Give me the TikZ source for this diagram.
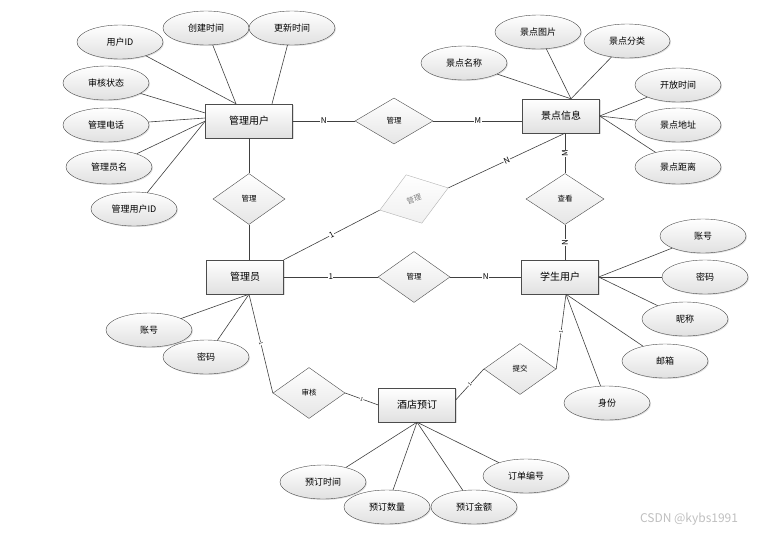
\documentclass[tikz,border=0pt]{standalone}
\usepackage{fontspec}
\setmainfont{Noto Sans CJK SC}
\usetikzlibrary{shapes.geometric, shadows, calc}

\begin{document}
\begin{tikzpicture}[x=1pt, y=-1pt,
  entity/.style={draw=black!70, rectangle, minimum width=77pt, minimum height=34pt,
    top color=white, bottom color=black!12,
    drop shadow={opacity=0.25, shadow xshift=1pt, shadow yshift=-1pt},
    font=\fontsize{10}{12}\selectfont},
  attr/.style={draw=black!70, ellipse, minimum width=86pt, minimum height=34pt, inner sep=0pt,
    top color=white, bottom color=black!12,
    drop shadow={opacity=0.25, shadow xshift=1pt, shadow yshift=-1pt},
    font=\fontsize{9}{11}\selectfont},
  rel/.style={draw=black!70, diamond, minimum width=72pt, minimum height=51pt, inner sep=0pt,
    top color=white, bottom color=black!10, font=\fontsize{7.5}{9}\selectfont},
  link/.style={draw=black!75, line width=0.6pt},
  card/.style={fill=white, inner sep=0.5pt, font=\fontsize{8}{9}\selectfont},
  tick/.style={sloped, fill=white, inner sep=0.3pt, font=\fontsize{5}{6}\selectfont}
]
\useasboundingbox (0,0) rectangle (760,533);

% entities
\node[entity, minimum width=87pt] (admuser) at (249,121) {管理用户};
\node[entity] (spot) at (561,116) {景点信息};
\node[entity] (admin) at (245,277) {管理员};
\node[entity] (student) at (560,277) {学生用户};
\node[entity] (hotel) at (417,405) {酒店预订};

% relations
\node[rel, minimum width=78pt, minimum height=46pt] (rmanagetop) at (394,121) {管理};
\node[rel] (rmanagev) at (249,199) {管理};
\node[rel, rotate=18, draw=black!30, text=black!50, bottom color=black!6] (rmanageg) at (414,199) {管理};
\node[rel, minimum width=78pt] (rview) at (565,199) {查看};
\node[rel] (rmanagemid) at (414,277) {管理};
\node[rel] (raudit) at (309,393) {审核};
\node[rel] (rsubmit) at (520,369) {提交};

% attributes
\node[attr] (uid) at (120,42) {用户ID};
\node[attr] (ctime) at (206,28) {创建时间};
\node[attr] (utime) at (292,28) {更新时间};
\node[attr] (astate) at (106,83) {审核状态};
\node[attr] (aphone) at (106,125) {管理电话};
\node[attr] (aname) at (109,167) {管理员名};
\node[attr] (auid) at (134,209) {管理用户ID};

\node[attr] (sname) at (464,63) {景点名称};
\node[attr] (spic) at (538,32) {景点图片};
\node[attr] (scat) at (627,41) {景点分类};
\node[attr] (sopen) at (678,85) {开放时间};
\node[attr] (saddr) at (678,125) {景点地址};
\node[attr] (sdist) at (678,167) {景点距离};

\node[attr] (stacc) at (703,236) {账号};
\node[attr] (stpwd) at (705,277) {密码};
\node[attr] (stnick) at (685,319) {昵称};
\node[attr] (stmail) at (665,361) {邮箱};
\node[attr] (strole) at (607,403) {身份};

\node[attr] (adacc) at (149,330) {账号};
\node[attr] (adpwd) at (206,357) {密码};

\node[attr] (htime) at (323,482) {预订时间};
\node[attr] (hnum) at (387,507) {预订数量};
\node[attr] (hsum) at (474,507) {预订金额};
\node[attr] (hno) at (526,476) {订单编号};

\node[text=black!25, font=\fontsize{12}{14}\selectfont] (mark) at (689,519) {CSDN @kybs1991};

% meeting points of the attribute lines
\coordinate (mutop) at ([xshift=-13pt]admuser.north);
\coordinate (mutop2) at ([xshift=23pt]admuser.north);
\coordinate (muleft1) at ([yshift=8pt]admuser.west);
\coordinate (muleft2) at ([yshift=3pt]admuser.west);
\coordinate (sptop) at ([xshift=10pt]spot.north);
\coordinate (stbot) at ([xshift=6pt]student.south);
\coordinate (adbot) at ([xshift=4pt]admin.south);
\coordinate (hoeast) at ([yshift=5pt]hotel.east);

\foreach \a in {uid, ctime} \draw[link] (\a) -- (mutop);
\draw[link] (utime) -- (mutop2);
\draw[link] (astate) -- (muleft1);
\draw[link] (aphone) -- (muleft2);
\foreach \a in {aname, auid} \draw[link] (\a) -- (admuser.west);
\foreach \a in {sname, spic, scat} \draw[link] (\a) -- (sptop);
\foreach \a in {sopen, saddr, sdist} \draw[link] (\a) -- (spot.east);
\foreach \a in {stacc, stpwd, stnick} \draw[link] (\a) -- (student.east);
\foreach \a in {stmail, strole} \draw[link] (\a) -- (stbot);
\foreach \a in {adacc, adpwd} \draw[link] (\a) -- (adbot);
\foreach \a in {htime, hnum, hsum, hno} \draw[link] (\a) -- (hotel.south);

% relationship lines
\draw[link] (admuser.east) -- node[card] {N} (rmanagetop.west);
\draw[link] (rmanagetop.east) -- node[card] {M} (rmanagetop.east -| spot.west);
\draw[link] (admuser.south) -- (rmanagev.north);
\draw[link] (rmanagev.south) -- (rmanagev.south |- admin.north);
\draw[link] (admin.north east) -- node[card, sloped] {1} (rmanageg.west);
\draw[link] (rmanageg.east) -- node[card, sloped] {N} ([xshift=4pt]spot.south);
\draw[link] (rview.north |- spot.south) -- node[card, rotate=90] {M} (rview.north);
\draw[link] (rview.south) -- node[card, rotate=90] {N} (rview.south |- student.north);
\draw[link] (admin.east) -- node[card] {1} (rmanagemid.west);
\draw[link] (rmanagemid.east) -- node[card] {N} (student.west);
\draw[link] (adbot) -- node[tick] {1} (raudit.west);
\draw[link] (raudit.east) -- node[tick] {1} (hotel.west);
\draw[link] (hoeast) -- node[tick] {1} (rsubmit.west);
\draw[link] (rsubmit.east) -- node[tick] {1} (stbot);
\end{tikzpicture}
\end{document}
